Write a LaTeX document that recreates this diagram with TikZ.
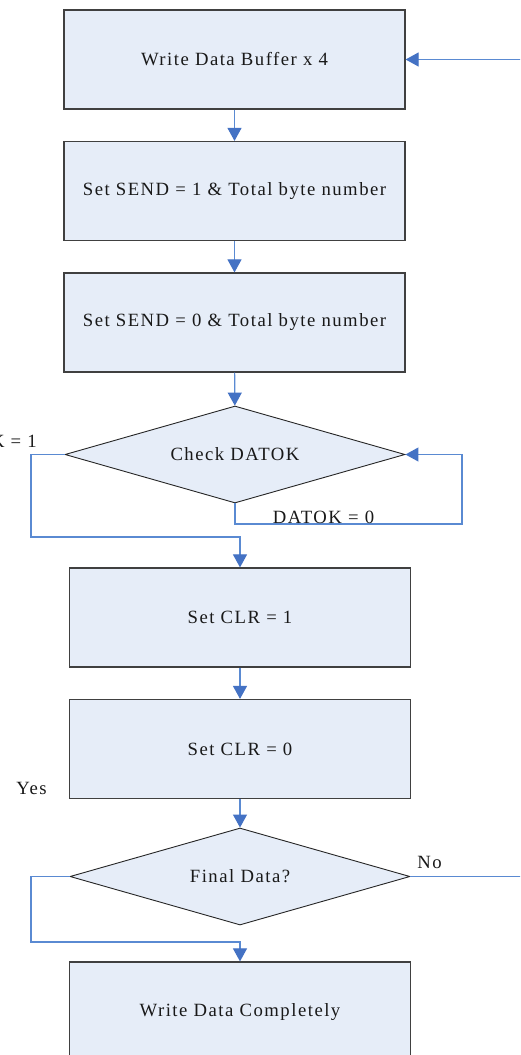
\documentclass[tikz,border=0pt]{standalone}
\usepackage{fontspec}
\setmainfont{Liberation Serif}[LetterSpace=8]
\usetikzlibrary{arrows.meta,shapes.geometric}
\definecolor{boxfill}{HTML}{E6EDF8}
\definecolor{conn}{HTML}{5A8AD2}
\definecolor{tipc}{HTML}{4472C4}
\begin{document}
\begin{tikzpicture}[x=1pt,y=-1pt,
  txt/.style={font=\fontsize{18.7}{21}\selectfont, text=black!90},
  box/.style={txt, draw=black!75, line width=1.2pt, fill=boxfill, minimum width=341pt, minimum height=99pt, inner sep=0pt},
  dec/.style={txt, diamond, draw=black!85, line width=0.9pt, fill=boxfill, minimum width=340pt, minimum height=97pt, aspect=3.5, inner sep=0pt},
  link/.style={draw=conn, line width=1.1pt, -{Triangle[width=14pt,length=13pt,color=tipc]}}
]
\useasboundingbox (0,0) rectangle (520,1055);
\clip (0,0) rectangle (520,1055);
\fill[white] (0,0) rectangle (520,1055);

\node[box] (b1) at (234.5,59.5) {Write Data Buffer x 4};
\node[box] (b2) at (234.5,191) {Set SEND = 1 \& Total byte number};
\node[box] (b3) at (234.5,322.5) {Set SEND = 0 \& Total byte number};
\node[dec] (d1) at (235,454.5) {Check DATOK};
\node[box] (b4) at (240,617.5) {Set CLR = 1};
\node[box] (b5) at (240,749) {Set CLR = 0};
\node[dec] (d2) at (240,876.5) {Final Data?};
\node[box, minimum height=100pt] (b6) at (240,1012) {Write Data Completely};

\coordinate (r1) at (462,524);
\coordinate (l1) at (31,537);
\coordinate (l2) at (31,942);
\coordinate (r2) at (530,876.5);

\draw[link] (b1) -- (b2);
\draw[link] (b2) -- (b3);
\draw[link] (b3) -- (d1);
\draw[link] (d1.south) |- (r1) |- (d1.east);
\draw[link] (d1.west) -| (l1) -| (b4.north);
\draw[link] (b4) -- (b5);
\draw[link] (b5) -- (d2);
\draw[link] (d2.west) -| (l2) -| (b6.north);
\draw[link] (d2.east) -- (r2) |- (b1.east);

\node[txt] (lab0) at (323.5,517) {DATOK = 0};
\node[txt, anchor=east, inner sep=0pt] (lab1) at (37,441) {DATOK = 1};
\node[txt] (labyes) at (31.5,788) {Yes};
\node[txt] (labno) at (429.5,862) {No};
\end{tikzpicture}
\end{document}
